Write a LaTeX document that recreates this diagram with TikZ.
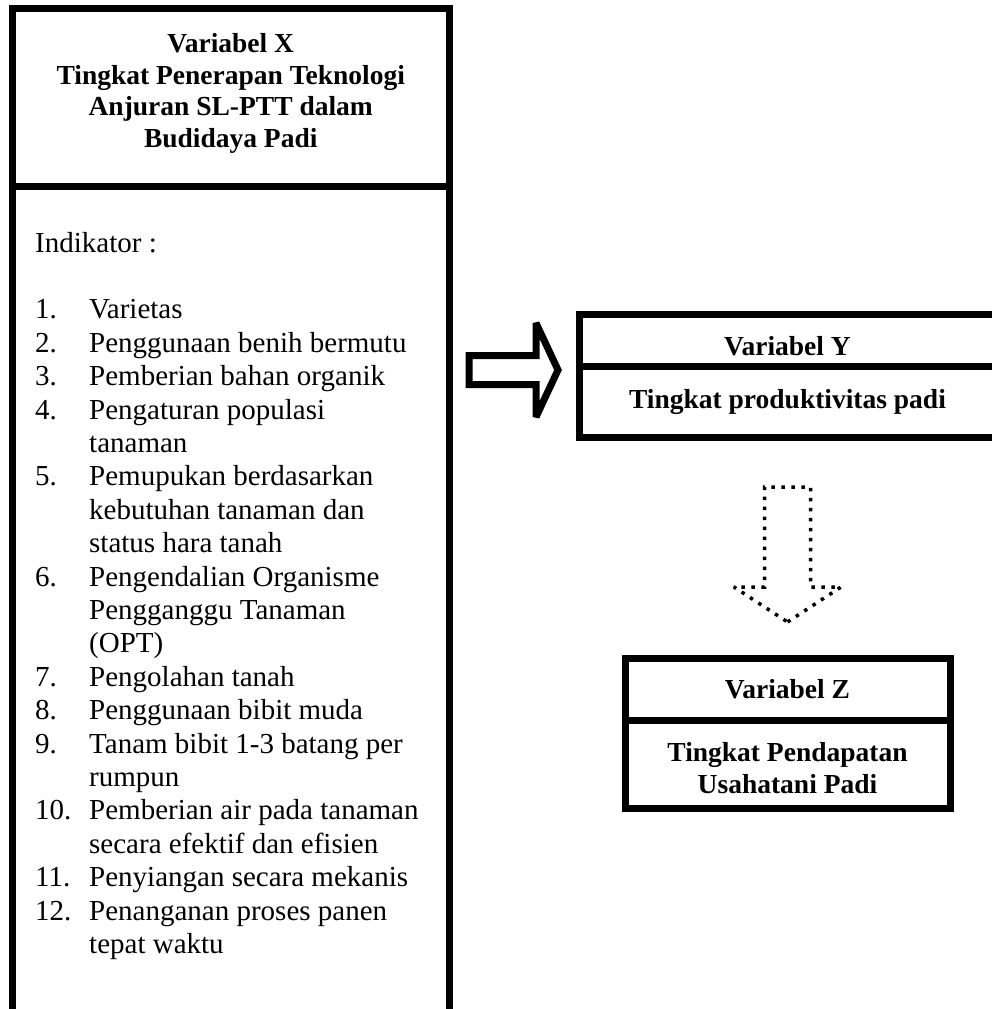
\documentclass[tikz,border=0pt]{standalone}
\usepackage{fontspec}
\setmainfont{Liberation Serif}

\tikzset{
  varbox/.style={draw, line width=7pt, outer sep=0pt, inner sep=0pt,
    anchor=north west, align=center,
    font=\fontsize{27.5}{31.6}\selectfont\bfseries},
  blockarrow/.style={draw, line width=7pt, line join=miter, miter limit=2},
  dotarrow/.style={draw, line width=3.5pt, dash pattern=on 3.5pt off 6.5pt, miter limit=2},
}

\begin{document}
\begin{tikzpicture}[x=1pt,y=-1pt]
  \useasboundingbox (0,0) rectangle (992,1009);
  \clip (0,0) rectangle (992,1009);
  % variabel X, its lower edge runs off the page
  \node[varbox, minimum width=436.5pt, minimum height=178pt, text depth=13.4pt] (xhead) at (12.5,8)
    {Variabel X\\Tingkat Penerapan Teknologi\\Anjuran SL-PTT dalam\\Budidaya Padi};
  \node[varbox, minimum width=436.5pt, minimum height=860pt] (xbody) at (xhead.south west) {};
  \node[anchor=base west, inner sep=0pt, font=\fontsize{29}{33.4}\selectfont] (xlist) at (35,252) {%
    \begin{tabular}[t]{@{}p{54pt}@{}l@{}}
      \multicolumn{2}{@{}l@{}}{Indikator :}\\
      & \\
      1. & Varietas\\
      2. & Penggunaan benih bermutu\\
      3. & Pemberian bahan organik\\
      4. & Pengaturan populasi\\
         & tanaman\\
      5. & Pemupukan berdasarkan\\
         & kebutuhan tanaman dan\\
         & status hara tanah\\
      6. & Pengendalian Organisme\\
         & Pengganggu Tanaman\\
         & (OPT)\\
      7. & Pengolahan tanah\\
      8. & Penggunaan bibit muda\\
      9. & Tanam bibit 1-3 batang per\\
         & rumpun\\
      10. & Pemberian air pada tanaman\\
          & secara efektif dan efisien\\
      11. & Penyiangan secara mekanis\\
      12. & Penanganan proses panen\\
          & tepat waktu
    \end{tabular}};

  % variabel Y
  \node[varbox, minimum width=417pt, minimum height=52pt, text height=30pt, text depth=0pt] (yhead) at (579,314) {Variabel Y};
  \node[varbox, minimum width=417pt, minimum height=71pt] (ybody) at (yhead.south west) {Tingkat produktivitas padi};

  % variabel Z
  \node[varbox, minimum width=325pt, minimum height=62pt] (zhead) at (625,658) {Variabel Z};
  \node[varbox, minimum width=325pt, minimum height=88pt, text height=58pt, text depth=0pt] (zbody) at (zhead.south west) {Tingkat Pendapatan\\Usahatani Padi};

  % X -> Y
  \coordinate (xytip) at ([shift={(-21pt,-4pt)}]yhead.south west);
  \draw[blockarrow] (xytip) -- ++(-22,-47) -- ++(0,32.5) -- ++(-67,0) -- ++(0,29)
    -- ++(67,0) -- ++(0,32.5) -- cycle;
  % Y -> Z
  \coordinate (yztip) at ([yshift=36pt]zhead.north);
  \draw[dotarrow] (yztip) -- ++(53.5,-35) -- ++(-30.5,0) -- ++(0,-100) -- ++(-46,0)
    -- ++(0,100) -- ++(-30.5,0) -- cycle;
\end{tikzpicture}
\end{document}
